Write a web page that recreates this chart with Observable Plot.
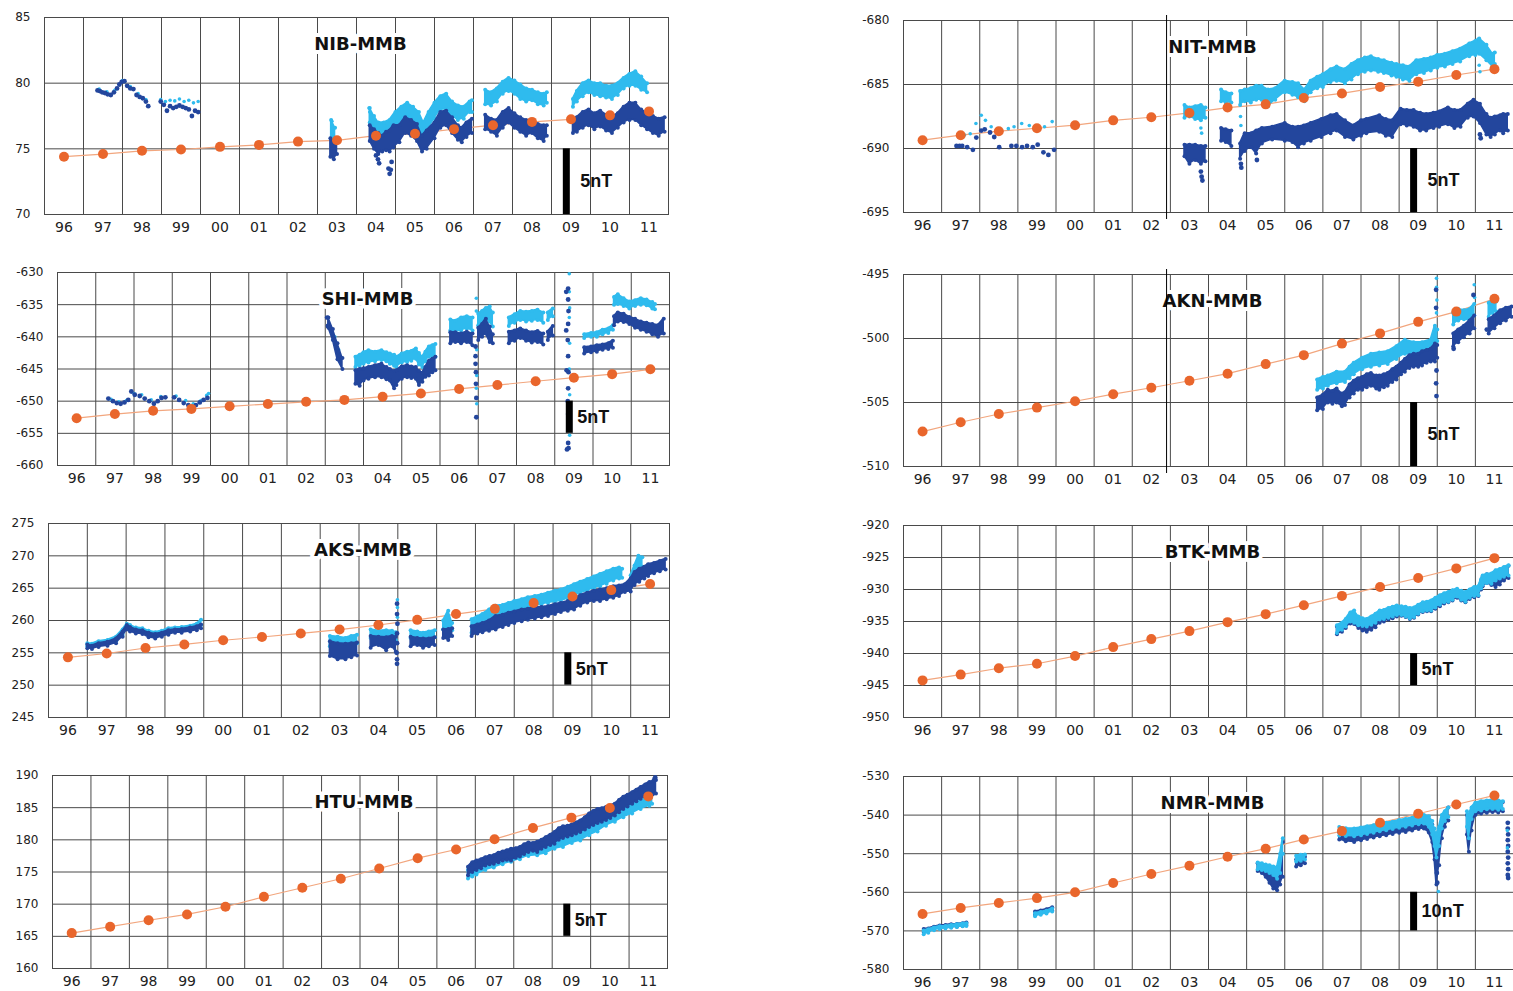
<!DOCTYPE html>
<html><head><meta charset="utf-8">
<script src="https://cdn.jsdelivr.net/npm/d3@7"></script>
<script src="https://cdn.jsdelivr.net/npm/@observablehq/plot@0.6"></script>
<style>
body{margin:0;background:#fff;}
#wrap{position:relative;width:1513px;height:991px;overflow:hidden;background:#fff;}
.panel{position:absolute;}
</style></head><body><div id="wrap"></div>
<script>
// ---------- shared axis data ----------
const years = [1996,1997,1998,1999,2000,2001,2002,2003,2004,2005,2006,2007,2008,2009,2010,2011];
const yearLabels = ["96","97","98","99","00","01","02","03","04","05","06","07","08","09","10","11"];
const gridYears = [1997,1998,1999,2000,2001,2002,2003,2004,2005,2006,2007,2008,2009,2010,2011];
const barX = 2009.38;

// ---------- NIB-MMB ----------
const nibTrend = [74.4,74.6,74.85,74.95,75.15,75.3,75.55,75.65,76.0,76.15,76.5,76.8,77.05,77.25,77.55,77.85];
const nibDark = [
 [[2003.33,74.4,75.8],[2003.42,74.2,75.6],[2003.5,74.6,75.6]],
 [[2004.34,75.6,76.8],[2004.45,75.0,76.5],[2004.56,74.6,76.2],[2004.66,74.8,76.0],[2004.76,74.9,76.3],[2004.85,74.8,76.4],[2004.95,75.1,76.8],[2005.1,75.5,76.8],[2005.25,76.2,77.4],[2005.4,76.0,77.2],[2005.55,75.6,76.9],[2005.68,74.8,76.0],[2005.8,75.0,76.4],[2006.0,75.8,77.0],[2006.15,76.6,77.8],[2006.3,76.8,77.9],[2006.45,76.2,77.4],[2006.6,75.7,76.8],[2006.7,75.5,76.6],[2006.82,75.9,77.0],[2006.96,76.2,77.3]],
 [[2007.3,76.5,77.6],[2007.45,76.3,77.3],[2007.6,76.0,77.2],[2007.75,76.6,77.8],[2007.9,77.0,78.1],[2008.05,76.6,77.7],[2008.2,76.3,77.4],[2008.35,76.0,77.2],[2008.5,76.2,77.1],[2008.65,75.8,76.9],[2008.8,75.6,76.8],[2008.88,76.0,76.8]],
 [[2009.55,76.2,77.0],[2009.65,76.3,77.4],[2009.8,76.6,77.8],[2009.95,76.8,78.0],[2010.1,76.5,77.7],[2010.25,76.7,77.9],[2010.4,76.4,77.6],[2010.55,76.2,77.4],[2010.7,76.6,77.7],[2010.85,77.0,78.2],[2011.0,77.2,78.5],[2011.15,77.2,78.5],[2011.3,76.8,78.0],[2011.45,76.5,77.7],[2011.6,76.2,77.5],[2011.75,76.0,77.3],[2011.9,76.3,77.4]]
];
const nibLight = [
 [[2003.35,75.8,77.2],[2003.45,75.6,76.6]],
 [[2004.34,77.0,78.1],[2004.45,76.5,77.5],[2004.56,75.6,77.0],[2004.7,75.8,77.0],[2004.85,75.4,77.2],[2005.0,76.4,77.8],[2005.15,77.0,78.2],[2005.3,77.4,78.5],[2005.45,77.1,78.2],[2005.6,76.6,77.8],[2005.72,75.9,77.0],[2005.85,76.6,77.8],[2006.0,77.3,78.5],[2006.15,78.0,79.0],[2006.3,78.0,79.2],[2006.45,77.5,78.6],[2006.6,77.2,78.3],[2006.75,77.3,78.2],[2006.9,77.8,78.6],[2006.96,77.8,78.7]],
 [[2007.3,78.4,79.5],[2007.45,78.3,79.3],[2007.6,78.6,79.6],[2007.75,79.2,80.1],[2007.9,79.4,80.4],[2008.05,79.2,80.2],[2008.2,78.8,79.9],[2008.35,78.6,79.6],[2008.5,78.7,79.5],[2008.65,78.4,79.3],[2008.8,78.3,79.2],[2008.88,78.5,79.3]],
 [[2009.55,78.2,78.8],[2009.65,78.6,79.4],[2009.8,79.0,80.0],[2009.95,79.3,80.2],[2010.1,79.1,80.0],[2010.25,79.0,80.0],[2010.4,78.9,79.8],[2010.55,78.8,79.8],[2010.7,79.1,80.0],[2010.85,79.6,80.4],[2011.0,79.8,80.7],[2011.15,79.8,80.9],[2011.3,79.5,80.5],[2011.45,79.3,80.0]]
];
const nibDarkDots = [[1997.36,79.45],[1997.42,79.4],[1997.48,79.3],[1997.55,79.25],[1997.62,79.15],[1997.7,79.1],[1997.78,79.3],[1997.86,79.6],[1997.92,79.9],[1997.98,80.1],[1998.05,80.15],[1998.12,79.8],[1998.2,79.6],[1998.28,79.55],[1998.36,79.1],[1998.44,78.95],[1998.52,78.85],[1998.6,78.6],[1998.66,78.25],[1998.98,78.6],[1999.06,78.35],[1999.14,77.9],[1999.22,78.25],[1999.3,78.1],[1999.38,78.2],[1999.46,78.3],[1999.54,78.2],[1999.62,78.1],[1999.7,78.0],[1999.78,77.5],[1999.86,77.9],[1999.94,77.8],
 [2004.5,74.5],[2004.55,74.2],[2004.58,73.9],[2004.82,73.5],[2004.85,73.1],[2004.88,73.4],[2004.9,74.0]];
const nibLightDots = [[1997.4,79.55],[1997.6,79.35],[1997.8,79.45],[1998.0,80.2],[1998.2,79.75],[1998.4,79.2],[1998.6,78.75],[1998.98,78.75],[1999.1,78.6],[1999.22,78.7],[1999.34,78.65],[1999.46,78.8],[1999.58,78.6],[1999.7,78.7],[1999.82,78.5],[1999.94,78.6],[2004.32,78.1],[2004.34,77.8],[2003.37,77.1]];
const nibBar = [70, 75];

// ---------- NIT-MMB ----------
const nitTrend = [-689.35,-688.96,-688.65,-688.42,-688.18,-687.8,-687.56,-687.22,-686.8,-686.55,-686.05,-685.7,-685.2,-684.78,-684.26,-683.8];
const nitDark = [
 [[2003.37,-690.6,-689.7],[2003.5,-691.2,-689.7],[2003.65,-690.9,-689.7],[2003.8,-691.2,-689.8],[2003.92,-691.0,-689.8]],
 [[2004.33,-689.4,-688.4],[2004.45,-689.5,-688.5],[2004.6,-689.8,-688.6]],
 [[2004.83,-690.8,-689.6],[2004.95,-690.2,-688.8],[2005.12,-689.9,-688.8],[2005.25,-690.4,-688.6],[2005.4,-689.6,-688.4],[2005.67,-689.3,-688.3],[2006.0,-689.4,-688.0],[2006.2,-689.5,-688.3],[2006.35,-689.9,-688.3],[2006.5,-689.6,-688.2],[2006.68,-689.4,-688.0],[2006.96,-689.1,-687.7],[2007.2,-688.8,-687.4],[2007.36,-688.6,-687.3],[2007.58,-689.1,-687.8],[2007.8,-689.3,-688.2],[2008.0,-689.0,-687.8],[2008.14,-688.8,-687.7],[2008.48,-688.7,-687.4],[2008.65,-689.0,-687.7],[2008.82,-689.1,-687.8],[2009.04,-688.1,-686.9],[2009.2,-688.2,-687.0],[2009.38,-688.3,-687.0],[2009.55,-688.6,-687.2],[2009.71,-688.6,-687.3],[2009.9,-688.4,-687.2],[2010.05,-688.3,-687.1],[2010.28,-688.1,-686.8],[2010.45,-688.4,-687.0],[2010.61,-688.3,-687.0],[2010.8,-687.6,-686.5],[2010.95,-687.5,-686.2],[2011.12,-688.0,-686.5],[2011.29,-688.9,-687.3],[2011.4,-689.1,-687.6],[2011.51,-688.9,-687.5],[2011.65,-688.6,-687.4],[2011.73,-688.8,-687.3],[2011.85,-688.6,-687.3]]
];
const nitLight = [
 [[2003.37,-687.6,-686.6],[2003.5,-687.5,-686.8],[2003.65,-687.7,-686.7],[2003.8,-687.8,-686.6],[2003.92,-687.6,-686.8]],
 [[2004.33,-686.3,-685.4],[2004.45,-686.4,-685.6],[2004.6,-686.4,-685.7]],
 [[2004.83,-686.6,-685.5],[2004.95,-686.3,-685.4],[2005.11,-686.4,-685.3],[2005.25,-686.2,-685.1],[2005.39,-686.2,-685.1],[2005.56,-686.7,-685.4],[2005.75,-686.2,-685.3],[2006.0,-685.6,-684.7],[2006.2,-685.8,-684.8],[2006.35,-686.0,-684.9],[2006.52,-686.3,-685.4],[2006.68,-685.6,-684.7],[2006.85,-685.3,-684.4],[2007.0,-685.2,-684.2],[2007.2,-684.8,-683.8],[2007.36,-684.7,-683.6],[2007.58,-684.9,-683.8],[2007.75,-684.6,-683.4],[2007.92,-684.2,-683.1],[2008.1,-684.0,-682.9],[2008.26,-683.9,-682.8],[2008.45,-684.0,-683.0],[2008.6,-684.1,-683.1],[2008.8,-684.3,-683.3],[2008.93,-684.4,-683.4],[2009.1,-684.6,-683.5],[2009.27,-684.7,-683.6],[2009.45,-684.2,-683.1],[2009.65,-684.1,-683.0],[2009.83,-683.9,-682.9],[2010.0,-683.7,-682.7],[2010.2,-683.6,-682.6],[2010.4,-683.4,-682.4],[2010.6,-683.2,-682.2],[2010.84,-682.8,-681.8],[2011.0,-682.7,-681.6],[2011.1,-682.6,-681.4],[2011.29,-683.1,-681.9],[2011.45,-683.6,-682.6],[2011.51,-683.4,-682.5]]
];
const nitDarkDots = [[1997.39,-689.8],[1997.47,-689.8],[1997.54,-689.8],[1997.67,-689.9],[1997.82,-690.1],[1997.91,-689.15],[1998.04,-688.6],[1998.13,-688.5],[1998.27,-688.75],[1998.38,-689.1],[1998.51,-689.9],[1998.83,-689.8],[1998.96,-689.8],[1999.11,-689.9],[1999.24,-689.8],[1999.39,-689.9],[1999.52,-689.7],[1999.67,-690.3],[1999.8,-690.5],[1999.95,-690.1],
 [2003.8,-691.8],[2003.82,-692.2],[2003.84,-692.5],[2004.85,-691.2],[2004.86,-691.5],[2005.27,-690.9],[2011.12,-688.9],[2011.14,-689.2]];
const nitLightDots = [[1997.6,-688.95],[1997.75,-688.85],[1997.9,-688.05],[1998.04,-687.4],[1998.15,-687.8],[1998.3,-688.3],[1998.5,-688.7],[1998.75,-688.45],[1998.9,-688.3],[1999.1,-688.05],[1999.3,-688.2],[1999.5,-688.25],[1999.7,-688.3],[1999.9,-687.9],
 [2003.8,-688.4],[2003.82,-688.8],[2004.84,-687.5],[2004.85,-688.2],[2011.1,-683.5],[2011.12,-684.0]];
const nitBar = [-695, -690];
const nitMarkers = [2002.9];

// ---------- SHI-MMB ----------
const shiTrend = [-652.65,-652.0,-651.5,-651.2,-650.8,-650.45,-650.1,-649.8,-649.3,-648.8,-648.1,-647.5,-646.9,-646.35,-645.8,-645.05];
const shiDark = [
 [[2003.08,-638.5,-637.0],[2003.2,-640.5,-638.8],[2003.32,-643.5,-641.0],[2003.45,-645.0,-643.3]],
 [[2003.79,-647.3,-645.2],[2003.9,-647.6,-645.0],[2004.0,-646.8,-644.9],[2004.13,-646.5,-644.7],[2004.3,-646.3,-644.4],[2004.47,-646.3,-644.2],[2004.6,-646.6,-644.7],[2004.69,-646.8,-645.0],[2004.8,-648.0,-645.3],[2004.86,-647.5,-645.2],[2005.0,-646.5,-644.6],[2005.14,-646.3,-644.4],[2005.25,-646.4,-644.6],[2005.37,-646.5,-644.7],[2005.45,-647.5,-645.3],[2005.54,-647.0,-645.6],[2005.62,-646.2,-644.7],[2005.71,-646.0,-643.7],[2005.8,-645.5,-643.4],[2005.88,-645.2,-643.1]],
 [[2006.27,-641.0,-639.3],[2006.4,-640.8,-639.3],[2006.55,-641.0,-639.5],[2006.7,-640.8,-639.2],[2006.85,-641.3,-639.5]],
 [[2007.0,-640.5,-638.6],[2007.1,-640.0,-638.0],[2007.2,-639.5,-637.2],[2007.3,-640.8,-638.4],[2007.38,-641.0,-639.6]],
 [[2007.8,-641.0,-639.2],[2007.95,-640.6,-639.0],[2008.1,-640.2,-638.7],[2008.25,-640.6,-639.0],[2008.4,-640.9,-639.3],[2008.55,-640.8,-639.1],[2008.7,-641.2,-639.5]],
 [[2008.82,-640.5,-639.2],[2008.95,-639.8,-638.3]],
 [[2009.77,-642.6,-641.6],[2009.95,-642.4,-641.5],[2010.1,-642.3,-641.3],[2010.25,-642.0,-641.2],[2010.4,-641.9,-641.0],[2010.52,-641.7,-640.6]],
 [[2010.55,-638.2,-636.8],[2010.65,-637.6,-636.2],[2010.8,-637.7,-636.4],[2010.95,-638.0,-636.9],[2011.1,-638.6,-637.2],[2011.25,-638.9,-637.6],[2011.4,-639.2,-637.8],[2011.55,-639.6,-638.0],[2011.7,-640.0,-638.2],[2011.85,-639.5,-637.2]]
];
const shiLight = [
 [[2003.79,-644.7,-643.1],[2003.9,-644.5,-642.8],[2004.0,-644.2,-642.4],[2004.13,-644.0,-642.1],[2004.3,-643.8,-642.3],[2004.47,-643.6,-642.1],[2004.6,-643.8,-642.4],[2004.69,-644.2,-642.6],[2004.8,-644.5,-642.8],[2004.86,-644.7,-643.1],[2005.0,-644.0,-642.6],[2005.14,-643.9,-642.3],[2005.25,-643.7,-642.2],[2005.37,-643.4,-641.8],[2005.45,-644.3,-642.5],[2005.54,-644.7,-643.1],[2005.62,-643.8,-642.3],[2005.71,-643.1,-641.5],[2005.8,-643.0,-641.3],[2005.88,-643.1,-641.1]],
 [[2006.27,-639.0,-637.3],[2006.4,-639.2,-637.5],[2006.55,-639.0,-637.0],[2006.7,-638.7,-636.8],[2006.85,-639.0,-637.0]],
 [[2007.0,-638.2,-636.4],[2007.1,-637.8,-636.0],[2007.2,-637.3,-635.5],[2007.3,-637.6,-635.3],[2007.38,-638.4,-636.2]],
 [[2007.8,-638.3,-637.0],[2007.95,-637.8,-636.5],[2008.1,-637.4,-636.0],[2008.25,-637.6,-636.1],[2008.4,-637.5,-636.0],[2008.55,-637.4,-635.8],[2008.7,-637.8,-636.2]],
 [[2008.82,-637.4,-636.2],[2008.95,-636.8,-635.6]],
 [[2009.77,-640.2,-639.6],[2009.95,-640.0,-639.4],[2010.1,-640.0,-639.3],[2010.25,-639.6,-638.9],[2010.4,-639.4,-638.7],[2010.52,-638.9,-638.2]],
 [[2010.55,-635.0,-633.8],[2010.65,-634.9,-633.4],[2010.8,-635.2,-634.0],[2010.95,-635.6,-634.5],[2011.1,-635.2,-634.3],[2011.25,-635.0,-634.0],[2011.4,-635.1,-634.2],[2011.55,-635.6,-634.6],[2011.62,-635.7,-634.9]]
];
const shiDarkDots = [[1997.33,-649.6],[1997.45,-650.0],[1997.55,-650.3],[1997.65,-650.4],[1997.75,-650.2],[1997.85,-649.8],[1997.93,-648.5],[1998.02,-649.0],[1998.15,-649.2],[1998.28,-649.6],[1998.4,-650.0],[1998.52,-650.4],[1998.62,-650.0],[1998.72,-649.5],[1998.82,-649.4],[1999.05,-649.4],[1999.18,-649.8],[1999.3,-650.3],[1999.42,-650.6],[1999.52,-651.0],[1999.62,-650.6],[1999.72,-650.2],[1999.82,-649.8],[1999.92,-649.5],
 [2003.05,-637.0],[2003.07,-638.3],[2003.1,-638.6],
 [2006.93,-641.5],[2006.93,-643.0],[2006.93,-644.2],[2006.94,-645.5],[2006.94,-647.3],[2006.95,-649.5],[2006.95,-652.5],
 [2009.35,-632.5],[2009.35,-634.2],[2009.36,-636.0],[2009.35,-638.0],[2009.34,-640.5],[2009.35,-643.0],[2009.36,-645.5],[2009.35,-648.0],[2009.34,-650.0],[2009.35,-652.0],[2009.36,-654.0],[2009.35,-656.5],[2009.36,-657.3],[2009.3,-633.0],[2009.3,-639.0],[2009.31,-645.2],[2009.32,-657.5]];
const shiLightDots = [[1997.4,-649.7],[1997.6,-650.1],[1997.8,-649.9],[1998.0,-648.8],[1998.2,-649.0],[1998.45,-649.8],[1998.7,-649.3],[1999.1,-649.2],[1999.35,-649.9],[1999.55,-650.4],[1999.75,-649.9],[1999.9,-649.1],[1999.95,-648.8],
 [2003.25,-640.0],[2003.35,-642.0],
 [2006.95,-634.0],[2006.95,-636.0],[2006.96,-642.0],[2006.96,-646.0],[2006.95,-648.0],[2006.96,-650.4],
 [2009.38,-630.2],[2009.38,-633.0],[2009.39,-635.5],[2009.38,-637.0],[2009.39,-641.0],[2009.38,-645.0],[2009.39,-649.0],[2009.38,-653.0],[2009.39,-655.3]];
const shiBar = [-655, -650];

// ---------- AKN-MMB ----------
const aknTrend = [-507.27,-506.54,-505.9,-505.4,-504.9,-504.35,-503.85,-503.3,-502.75,-502.0,-501.3,-500.4,-499.6,-498.7,-497.9,-496.9];
const aknDark = [
 [[2006.85,-505.6,-504.6],[2007.0,-505.5,-504.4],[2007.13,-505.0,-504.0],[2007.25,-505.1,-504.1],[2007.36,-505.0,-503.9],[2007.5,-505.3,-504.3],[2007.58,-505.2,-504.2],[2007.7,-504.6,-503.6],[2007.81,-504.3,-503.3],[2007.92,-504.0,-503.1],[2008.03,-504.0,-503.0],[2008.15,-503.8,-502.8],[2008.26,-503.7,-502.7],[2008.4,-503.9,-502.9],[2008.48,-504.0,-502.9],[2008.6,-503.8,-502.8],[2008.7,-503.7,-502.7],[2008.82,-503.4,-502.4],[2008.93,-503.2,-502.2],[2009.05,-502.8,-501.9],[2009.15,-502.6,-501.6],[2009.27,-502.3,-501.3],[2009.38,-502.2,-501.2],[2009.5,-502.2,-501.2],[2009.6,-502.1,-501.0],[2009.72,-501.9,-500.9],[2009.83,-501.8,-500.8],[2009.94,-501.8,-500.4],[2010.0,-501.5,-500.5]],
 [[2010.42,-500.6,-499.6],[2010.55,-500.3,-499.3],[2010.7,-499.9,-499.0],[2010.85,-499.6,-498.6],[2010.97,-499.2,-498.2]],
 [[2011.35,-499.6,-498.5],[2011.5,-499.2,-498.2],[2011.65,-498.8,-497.8],[2011.8,-498.6,-497.6],[2011.95,-498.3,-497.5]]
];
const aknLight = [
 [[2006.85,-504.0,-503.2],[2007.0,-503.9,-503.0],[2007.13,-503.7,-502.9],[2007.36,-503.5,-502.6],[2007.58,-503.4,-502.6],[2007.7,-503.1,-502.2],[2007.81,-502.8,-501.9],[2008.03,-502.4,-501.5],[2008.26,-502.2,-501.2],[2008.48,-502.1,-501.1],[2008.7,-502.0,-501.0],[2008.93,-501.6,-500.6],[2009.15,-501.2,-500.1],[2009.38,-501.3,-500.3],[2009.6,-501.2,-500.3],[2009.83,-501.0,-500.1],[2009.94,-500.5,-499.0],[2010.0,-500.2,-499.3]],
 [[2010.42,-498.9,-498.0],[2010.55,-498.6,-497.7],[2010.7,-498.5,-497.8],[2010.85,-498.6,-497.7],[2010.97,-498.2,-497.3]],
 [[2011.35,-498.3,-497.2],[2011.45,-498.0,-497.0],[2011.55,-497.9,-497.1]]
];
const aknDarkDots = [[2009.97,-496.2],[2009.97,-497.6],[2009.98,-502.5],[2009.97,-503.5],[2009.98,-504.5],[2010.95,-496.6],[2010.43,-500.8],[2011.3,-499.3]];
const aknLightDots = [[2009.98,-495.3],[2009.98,-496.0],[2009.99,-497.0],[2009.98,-498.0],[2010.97,-495.8],[2010.98,-496.8]];
const aknBar = [-510, -505];
const aknMarkers = [2002.9];

// ---------- AKS-MMB ----------
const aksTrend = [254.3,254.9,255.75,256.3,256.95,257.45,258.0,258.6,259.3,260.1,261.0,261.8,262.7,263.7,264.7,265.65];
const aksDark = [
 [[1997.0,255.7,256.3],[1997.12,255.6,256.1],[1997.29,255.9,256.5],[1997.52,256.1,256.7],[1997.74,256.5,257.2],[1997.91,257.5,258.3],[1998.02,258.6,259.3],[1998.1,258.3,259.0],[1998.25,258.0,258.6],[1998.42,257.9,258.5],[1998.58,257.4,258.1],[1998.75,257.2,257.9],[1998.92,257.5,258.1],[1999.09,257.8,258.5],[1999.26,258.1,258.6],[1999.43,258.1,258.7],[1999.65,258.3,258.9],[1999.82,258.5,259.1],[1999.93,258.8,259.4]],
 [[2003.25,254.5,256.8],[2003.45,254.0,256.5],[2003.65,254.0,256.4],[2003.8,254.3,256.5],[2003.95,254.6,256.6]],
 [[2004.3,255.8,257.6],[2004.5,256.2,257.5],[2004.7,255.4,257.4],[2004.85,256.0,257.6],[2004.95,255.2,257.5]],
 [[2005.33,256.0,257.5],[2005.5,256.2,257.3],[2005.65,255.8,257.2],[2005.8,256.0,257.2],[2005.95,256.2,257.4]],
 [[2006.17,257.3,258.6],[2006.3,257.0,258.7],[2006.4,257.6,258.8]],
 [[2006.9,257.6,259.1],[2007.05,258.0,259.4],[2007.18,258.2,259.6],[2007.35,258.4,260.0],[2007.52,258.6,260.7],[2007.7,259.0,260.9],[2007.85,259.3,261.2],[2008.0,259.6,261.4],[2008.19,259.9,261.7],[2008.35,260.1,261.8],[2008.53,260.3,262.0],[2008.7,260.5,262.1],[2008.87,260.7,262.2],[2009.05,261.0,262.5],[2009.2,261.3,262.7],[2009.38,261.5,263.0],[2009.54,261.7,263.3],[2009.7,262.3,263.9],[2009.88,262.8,264.3],[2010.05,263.0,264.6],[2010.21,263.0,264.8],[2010.38,263.3,265.0],[2010.55,263.5,265.3],[2010.7,263.8,265.4],[2010.85,264.4,265.6],[2011.0,264.5,266.5],[2011.1,265.5,267.5],[2011.22,266.0,268.0],[2011.35,266.5,268.3],[2011.45,266.9,268.7],[2011.6,267.3,268.9],[2011.75,267.6,269.2],[2011.9,267.9,269.5]]
];
const aksLight = [
 [[1997.0,256.0,256.5],[1997.12,255.9,256.4],[1997.29,256.2,256.8],[1997.52,256.4,257.0],[1997.74,256.8,257.5],[1997.91,257.8,258.6],[1998.02,258.9,259.5],[1998.1,258.6,259.3],[1998.25,258.3,258.9],[1998.42,258.2,258.8],[1998.58,257.7,258.4],[1998.75,257.5,258.2],[1998.92,257.8,258.4],[1999.09,258.1,258.8],[1999.26,258.4,258.9],[1999.43,258.4,259.0],[1999.65,258.6,259.2],[1999.82,258.8,259.5],[1999.93,259.3,260.1]],
 [[2003.25,256.0,257.6],[2003.45,256.2,257.5],[2003.65,256.0,257.3],[2003.8,256.3,257.6],[2003.95,256.5,257.8]],
 [[2004.3,257.3,258.6],[2004.5,257.2,258.4],[2004.7,257.3,258.5],[2004.85,257.2,258.4],[2004.95,257.0,258.2]],
 [[2005.33,257.3,258.5],[2005.5,257.2,258.3],[2005.65,257.0,258.1],[2005.8,257.3,258.3],[2005.95,257.4,258.5]],
 [[2006.17,258.6,260.0],[2006.3,258.8,261.5],[2006.4,258.5,259.6]],
 [[2006.9,258.1,260.2],[2007.05,258.6,260.6],[2007.18,259.2,261.0],[2007.35,259.8,261.7],[2007.52,260.4,262.3],[2007.7,260.7,262.4],[2007.85,261.0,262.7],[2008.0,261.4,263.0],[2008.19,261.7,263.3],[2008.35,261.9,263.6],[2008.53,262.2,263.8],[2008.7,262.5,264.0],[2008.87,262.7,264.3],[2009.05,262.9,264.6],[2009.2,263.0,264.8],[2009.38,263.4,265.2],[2009.54,263.8,265.6],[2009.7,264.2,266.0],[2009.88,264.6,266.4],[2010.05,265.0,266.8],[2010.21,265.3,267.2],[2010.38,265.7,267.6],[2010.55,266.2,268.0],[2010.7,266.5,268.2],[2010.78,266.6,268.0]],
 [[2011.0,265.5,267.0],[2011.1,266.5,268.5],[2011.2,268.0,270.0],[2011.3,268.3,269.8]]
];
const aksDarkDots = [[2004.98,253.3],[2004.98,254.0],[2004.97,255.0],[2004.98,256.5],[2004.98,258.0],[2004.99,259.5],[2004.98,261.0],[2004.98,262.6]];
const aksLightDots = [[2004.99,263.2],[2004.99,262.0],[2004.99,260.5]];
const aksBar = [250, 255];

// ---------- BTK-MMB ----------
const btkTrend = [-944.2,-943.3,-942.3,-941.6,-940.4,-939.0,-937.75,-936.5,-935.1,-933.85,-932.45,-931.0,-929.6,-928.2,-926.7,-925.1];
const btkDark = [
 [[2007.37,-937.0,-935.8],[2007.5,-936.6,-935.4],[2007.6,-936.0,-934.8],[2007.72,-935.3,-934.0],[2007.82,-935.4,-933.8],[2007.93,-936.0,-934.6],[2008.04,-936.4,-935.0],[2008.15,-936.6,-935.2],[2008.27,-936.3,-934.8],[2008.38,-935.9,-934.3],[2008.49,-935.2,-933.8],[2008.6,-935.0,-933.6],[2008.72,-934.7,-933.3],[2008.83,-934.5,-933.0],[2008.94,-934.2,-932.8],[2009.06,-934.1,-932.8],[2009.17,-934.3,-932.9],[2009.28,-934.6,-933.1],[2009.39,-934.4,-933.0],[2009.5,-933.9,-932.6],[2009.62,-933.5,-932.2],[2009.73,-933.4,-932.0],[2009.84,-933.4,-931.9],[2009.95,-933.0,-931.5],[2010.07,-932.6,-931.1],[2010.18,-932.2,-930.8],[2010.29,-932.0,-930.5],[2010.4,-931.7,-930.2],[2010.52,-931.3,-930.0],[2010.63,-931.7,-930.3],[2010.74,-932.0,-930.5],[2010.85,-931.5,-930.1],[2010.97,-931.2,-929.8],[2011.08,-931.0,-929.6],[2011.15,-930.0,-928.6],[2011.19,-929.5,-928.0],[2011.3,-929.0,-927.6],[2011.42,-929.3,-927.6],[2011.53,-929.6,-927.4],[2011.64,-929.2,-926.9],[2011.75,-928.6,-926.6],[2011.87,-928.2,-926.3]]
];
const btkLight = [
 [[2007.37,-936.8,-935.6],[2007.5,-936.3,-935.2],[2007.6,-935.8,-934.6],[2007.72,-935.0,-933.6],[2007.82,-935.2,-933.3],[2007.93,-935.6,-934.2],[2008.04,-935.7,-934.5],[2008.15,-935.8,-934.6],[2008.27,-935.5,-934.2],[2008.38,-935.2,-933.8],[2008.49,-934.7,-933.3],[2008.6,-934.6,-933.2],[2008.72,-934.4,-932.9],[2008.83,-934.2,-932.7],[2008.94,-934.0,-932.5],[2009.06,-934.0,-932.6],[2009.17,-934.2,-932.7],[2009.28,-934.5,-932.9],[2009.39,-934.3,-932.8],[2009.5,-933.8,-932.4],[2009.62,-933.4,-932.0],[2009.73,-933.3,-931.9],[2009.84,-933.3,-931.7],[2009.95,-932.8,-931.3],[2010.07,-932.4,-930.9],[2010.18,-932.0,-930.6],[2010.29,-931.9,-930.4],[2010.4,-931.6,-930.1],[2010.52,-931.1,-929.9],[2010.63,-931.6,-930.2],[2010.74,-931.9,-930.4],[2010.85,-931.3,-930.0],[2010.97,-931.0,-929.6],[2011.08,-930.9,-929.5],[2011.15,-929.8,-928.4],[2011.19,-929.3,-927.8],[2011.3,-929.0,-927.6],[2011.42,-929.1,-927.5],[2011.53,-928.6,-927.0],[2011.64,-928.3,-926.8],[2011.75,-928.0,-926.5],[2011.87,-927.8,-926.2]]
];
const btkBar = [-945, -940];

// ---------- HTU-MMB ----------
const htuTrend = [165.5,166.5,167.5,168.4,169.6,171.15,172.55,173.95,175.55,177.15,178.5,180.1,181.85,183.45,184.95,186.75];
const htuDark = [
 [[2006.81,174.5,175.8],[2006.92,175.0,176.5],[2007.03,175.3,176.8],[2007.15,175.6,177.0],[2007.26,176.0,177.3],[2007.37,176.2,177.5],[2007.48,176.3,177.6],[2007.6,176.5,178.0],[2007.71,176.8,178.2],[2007.82,176.9,178.4],[2007.93,176.8,178.6],[2008.05,177.2,178.7],[2008.16,177.4,178.9],[2008.27,177.8,179.3],[2008.38,178.1,179.6],[2008.5,178.3,179.5],[2008.61,178.1,179.7],[2008.72,178.6,180.0],[2008.83,178.9,180.4],[2008.95,179.2,180.8],[2009.06,179.4,181.2],[2009.17,180.0,181.8],[2009.28,180.3,182.1],[2009.4,180.5,182.2],[2009.51,180.7,182.4],[2009.62,181.0,182.7],[2009.73,181.2,183.0],[2009.85,181.6,183.5],[2009.96,182.0,184.1],[2010.07,182.3,184.5],[2010.18,182.6,184.8],[2010.29,182.8,184.9],[2010.4,183.1,185.1],[2010.51,183.4,185.3],[2010.63,183.8,185.6],[2010.74,184.3,186.2],[2010.85,184.8,186.7],[2010.96,185.2,187.0],[2011.08,185.6,187.4],[2011.19,186.0,187.8],[2011.3,186.4,188.2],[2011.42,186.7,188.6],[2011.53,186.9,189.0],[2011.62,187.1,189.1],[2011.7,187.2,189.3]]
];
const htuLight = [
 [[2006.81,174.0,175.3],[2006.92,174.3,175.6],[2007.03,174.6,175.8],[2007.26,175.3,176.6],[2007.48,175.7,177.2],[2007.71,176.2,177.7],[2007.93,176.6,178.1],[2008.16,177.0,178.5],[2008.38,177.5,179.0],[2008.61,177.6,179.1],[2008.83,177.9,179.4],[2009.06,178.6,180.5],[2009.28,178.9,181.0],[2009.51,179.5,181.5],[2009.73,179.9,182.0],[2009.96,180.7,182.6],[2010.18,181.3,183.0],[2010.4,182.2,183.6],[2010.63,182.8,184.5],[2010.85,183.5,185.3],[2011.08,184.1,186.1],[2011.3,184.8,186.9],[2011.53,185.3,187.5],[2011.6,185.6,187.7]]
];
const htuDarkDots = [[2011.68,189.7],[2011.66,189.4]];
const htuBar = [165, 170];

// ---------- NMR-MMB ----------
const nmrTrend = [-565.6,-564.05,-562.75,-561.5,-560.0,-557.6,-555.25,-553.1,-550.8,-548.7,-546.3,-544.15,-542.0,-539.65,-537.25,-534.9];
const nmrDark = [
 [[1996.53,-570.3,-569.5],[1996.65,-570.1,-569.4],[1996.8,-569.6,-568.9],[1996.95,-569.3,-568.6],[1997.1,-569.2,-568.5],[1997.25,-569.0,-568.3],[1997.4,-568.9,-568.2],[1997.55,-568.7,-568.0],[1997.65,-568.5,-567.8]],
 [[1999.45,-565.8,-565.0],[1999.6,-565.5,-564.7],[1999.75,-565.2,-564.4],[1999.9,-564.7,-563.9]],
 [[2005.29,-554.5,-552.5],[2005.4,-555.0,-553.0],[2005.5,-556.0,-553.5],[2005.6,-557.5,-554.0],[2005.7,-559.0,-554.5],[2005.8,-559.5,-555.0],[2005.88,-558.0,-552.0],[2005.95,-556.0,-547.0]],
 [[2006.3,-553.3,-551.5],[2006.42,-553.0,-551.0],[2006.53,-552.5,-550.8]],
 [[2007.43,-546.3,-544.5],[2007.6,-546.8,-544.8],[2007.82,-547.0,-545.0],[2008.0,-546.5,-544.6],[2008.16,-546.2,-544.3],[2008.33,-545.8,-543.9],[2008.49,-545.5,-543.2],[2008.66,-545.2,-543.0],[2008.83,-544.9,-542.8],[2009.0,-544.6,-542.4],[2009.17,-544.4,-541.9],[2009.34,-544.0,-541.7],[2009.51,-543.6,-541.5],[2009.65,-543.5,-541.2],[2009.78,-544.5,-541.5],[2009.87,-547.0,-542.5],[2009.93,-551.5,-545.0],[2009.98,-558.0,-549.0],[2010.05,-553.0,-546.0],[2010.12,-546.0,-541.0],[2010.2,-543.0,-539.5],[2010.29,-541.4,-538.0]],
 [[2010.78,-545.0,-540.0],[2010.83,-549.5,-541.0],[2010.9,-544.0,-539.0],[2011.0,-540.0,-537.5],[2011.15,-539.6,-537.2],[2011.3,-539.4,-537.0],[2011.45,-539.2,-537.0],[2011.6,-539.3,-537.1],[2011.72,-539.0,-536.6]]
];
const nmrLight = [
 [[1996.53,-570.9,-569.9],[1996.65,-570.5,-569.6],[1996.8,-569.8,-569.1],[1996.95,-569.5,-568.8],[1997.1,-569.4,-568.7],[1997.25,-569.2,-568.5],[1997.4,-569.0,-568.3],[1997.55,-568.8,-568.1],[1997.65,-568.7,-568.0]],
 [[1999.45,-566.2,-565.4],[1999.6,-565.8,-565.1],[1999.75,-565.5,-564.8],[1999.9,-565.0,-564.2]],
 [[2005.29,-554.0,-552.3],[2005.4,-554.2,-552.5],[2005.5,-554.5,-552.8],[2005.6,-555.0,-553.0],[2005.7,-555.5,-553.3],[2005.8,-556.5,-553.5],[2005.88,-555.0,-550.0],[2005.95,-550.0,-546.0]],
 [[2006.3,-552.0,-550.5],[2006.42,-551.8,-550.3],[2006.53,-551.5,-550.2]],
 [[2007.43,-545.3,-543.1],[2007.6,-545.4,-543.4],[2007.82,-545.5,-543.5],[2008.0,-545.2,-543.2],[2008.16,-544.9,-542.9],[2008.33,-544.6,-542.6],[2008.49,-544.2,-542.2],[2008.66,-543.9,-542.0],[2008.83,-543.6,-541.7],[2009.0,-543.3,-541.3],[2009.17,-543.0,-541.0],[2009.34,-542.7,-540.7],[2009.51,-542.4,-540.3],[2009.65,-542.2,-540.0],[2009.78,-543.0,-540.3],[2009.87,-545.0,-541.5],[2009.93,-548.0,-543.5],[2009.98,-551.0,-545.0],[2010.05,-548.0,-543.0],[2010.12,-543.5,-540.0],[2010.2,-541.5,-539.0],[2010.29,-540.5,-538.0]],
 [[2010.78,-543.0,-539.0],[2010.83,-546.0,-540.0],[2010.9,-541.0,-538.0],[2011.0,-539.0,-536.8],[2011.15,-538.8,-536.4],[2011.3,-538.5,-536.2],[2011.45,-538.4,-536.0],[2011.6,-538.6,-536.2],[2011.72,-538.4,-536.4]]
];
const nmrDarkDots = [[2011.85,-542.0],[2011.85,-543.5],[2011.86,-545.0],[2011.85,-546.5],[2011.86,-548.0],[2011.85,-549.5],[2011.86,-551.0],[2011.85,-552.5],[2011.86,-554.0],[2011.85,-555.5],[2011.86,-556.3],[2010.0,-557.5],[2009.99,-555.0]];
const nmrLightDots = [[2010.03,-559.8],[2011.84,-544.0],[2011.84,-548.5]];
const nmrBar = [-570, -560];

// ---------- styling ----------
const DARK = "#23469d", LIGHT = "#2fbbee", ORANGE = "#e9662c", TREND = "#f2a67e", GRID = "#4a4a4a";

function segRows(list) { return list.flatMap((s, i) => s.map(([x, lo, hi]) => ({x, lo, hi, seg: i}))); }
function edgeRows(list) { return list.flatMap(s => s.flatMap(([x, lo, hi]) => [{x, y: lo}, {x, y: hi}])); }
function ptRows(list) { return (list || []).map(([x, y]) => ({x, y})); }

const panels = [
  {title: "NIB-MMB", left: 44, right: 668, top: 17, bottom: 214, svgLeft: 0, svgWidth: 680, yDomain: [70, 85], yTicks: [70,75,80,85], trend: nibTrend, dark: nibDark, light: nibLight, darkDots: nibDarkDots, lightDots: nibLightDots, bar: nibBar, barLabel: "5nT", barDx: 14, darkOnTop: true},
  {title: "NIT-MMB", left: 903, right: 1513, top: 20, bottom: 212, svgLeft: 840, svgWidth: 673, yDomain: [-695, -680], yTicks: [-695,-690,-685,-680], trend: nitTrend, dark: nitDark, light: nitLight, darkDots: nitDarkDots, lightDots: nitLightDots, bar: nitBar, barLabel: "5nT", barDx: 14, darkOnTop: true, markers: nitMarkers},
  {title: "SHI-MMB", left: 57, right: 669, top: 272, bottom: 465, svgLeft: 0, svgWidth: 680, yDomain: [-660, -630], yTicks: [-660,-655,-650,-645,-640,-635,-630], trend: shiTrend, dark: shiDark, light: shiLight, darkDots: shiDarkDots, lightDots: shiLightDots, bar: shiBar, barLabel: "5nT", barDx: 8, darkOnTop: true},
  {title: "AKN-MMB", left: 903, right: 1513, top: 274, bottom: 466, svgLeft: 840, svgWidth: 673, yDomain: [-510, -495], yTicks: [-510,-505,-500,-495], trend: aknTrend, dark: aknDark, light: aknLight, darkDots: aknDarkDots, lightDots: aknLightDots, bar: aknBar, barLabel: "5nT", barDx: 14, darkOnTop: true, markers: aknMarkers},
  {title: "AKS-MMB", left: 48, right: 669, top: 523, bottom: 717, svgLeft: 0, svgWidth: 680, yDomain: [245, 275], yTicks: [245,250,255,260,265,270,275], trend: aksTrend, dark: aksDark, light: aksLight, darkDots: aksDarkDots, lightDots: aksLightDots, bar: aksBar, barLabel: "5nT", barDx: 8, darkOnTop: true},
  {title: "BTK-MMB", left: 903, right: 1513, top: 525, bottom: 717, svgLeft: 840, svgWidth: 673, yDomain: [-950, -920], yTicks: [-950,-945,-940,-935,-930,-925,-920], trend: btkTrend, dark: btkDark, light: btkLight, darkDots: [], lightDots: [], bar: btkBar, barLabel: "5nT", barDx: 8, darkOnTop: false},
  {title: "HTU-MMB", left: 52, right: 667, top: 775, bottom: 968, svgLeft: 0, svgWidth: 680, yDomain: [160, 190], yTicks: [160,165,170,175,180,185,190], trend: htuTrend, dark: htuDark, light: htuLight, darkDots: htuDarkDots, lightDots: [], bar: htuBar, barLabel: "5nT", barDx: 8, darkOnTop: true},
  {title: "NMR-MMB", left: 903, right: 1513, top: 776, bottom: 969, svgLeft: 840, svgWidth: 673, yDomain: [-580, -530], yTicks: [-580,-570,-560,-550,-540,-530], trend: nmrTrend, dark: nmrDark, light: nmrLight, darkDots: nmrDarkDots, lightDots: nmrLightDots, bar: nmrBar, barLabel: "10nT", barDx: 8, darkOnTop: false}
];

const wrap = document.getElementById("wrap");
const tickPos = years.map(y => y + 0.5);

for (const p of panels) {
  const mt = 10, mb = 30;
  const fh = p.bottom - p.top;
  const trendRows = years.map((y, i) => ({x: y + 0.5, y: p.trend[i]}));
  const bandMarks = (list, color) => [
    Plot.areaY(segRows(list), {x: "x", y1: "lo", y2: "hi", z: "seg", fill: color, stroke: color, strokeWidth: 1.5, strokeLinejoin: "round", curve: "linear"}),
    Plot.dot(edgeRows(list), {x: "x", y: "y", r: 2, fill: color})
  ];
  const darkDots = Plot.dot(ptRows(p.darkDots), {x: "x", y: "y", r: 2.4, fill: DARK});
  const lightDots = Plot.dot(ptRows(p.lightDots), {x: "x", y: "y", r: 1.8, fill: LIGHT});
  const series = p.darkOnTop
    ? [...bandMarks(p.light, LIGHT), lightDots, ...bandMarks(p.dark, DARK), darkDots]
    : [...bandMarks(p.dark, DARK), darkDots, ...bandMarks(p.light, LIGHT), lightDots];
  const barRows = [{x: barX, y1: p.bar[0], y2: p.bar[1], mid: (p.bar[0] + p.bar[1]) / 2, label: p.barLabel}];
  const svg = Plot.plot({
    width: p.svgWidth,
    height: fh + mt + mb,
    marginLeft: p.left - p.svgLeft,
    marginRight: p.svgLeft + p.svgWidth - p.right,
    marginTop: mt,
    marginBottom: mb,
    x: {domain: [1996, 2012]},
    y: {domain: p.yDomain},
    style: {fontFamily: "'DejaVu Sans', Verdana, sans-serif", fontSize: "12px", color: "#222", background: "transparent", overflow: "visible"},
    marks: [
      Plot.ruleY(p.yTicks, {y: d => d, stroke: GRID, strokeWidth: 1}),
      Plot.ruleX(gridYears, {x: d => d, stroke: GRID, strokeWidth: 1}),
      Plot.frame({stroke: GRID, strokeWidth: 1}),
      Plot.axisX({ticks: tickPos, tickFormat: d => yearLabels[Math.floor(d) - 1996], tickSize: 0, tickPadding: 8, fontSize: 14, label: null}),
      Plot.axisY({ticks: p.yTicks, tickFormat: d => String(d), tickSize: 0, tickPadding: 14, fontSize: 12, label: null}),
      Plot.line(trendRows, {x: "x", y: "y", stroke: TREND, strokeWidth: 1.2}),
      ...series,
      Plot.dot(trendRows, {x: "x", y: "y", r: 5, fill: ORANGE}),
      Plot.ruleX(barRows, {x: "x", y1: "y1", y2: "y2", stroke: "black", strokeWidth: 7}),
      Plot.text(barRows, {x: "x", y: "mid", text: "label", dx: p.barDx, textAnchor: "start", fontSize: 18, fontWeight: "bold", fontFamily: "'Liberation Sans', Arial, sans-serif", fill: "#111"}),
      Plot.text([p.title], {text: d => d, frameAnchor: "top", lineAnchor: "middle", dx: 4, dy: 27, fontSize: 18, fontWeight: "bold", fontFamily: "'DejaVu Sans', Verdana, sans-serif", fill: "#111", stroke: "white", strokeWidth: 8, paintOrder: "stroke"}),
      Plot.ruleX(p.markers || [], {x: d => d, stroke: "black", strokeWidth: 1, insetTop: -5, insetBottom: -7})
    ]
  });
  const div = document.createElement("div");
  div.className = "panel";
  div.style.left = p.svgLeft + "px";
  div.style.top = (p.top - mt) + "px";
  div.appendChild(svg);
  wrap.appendChild(div);
}
</script>
</body></html>
